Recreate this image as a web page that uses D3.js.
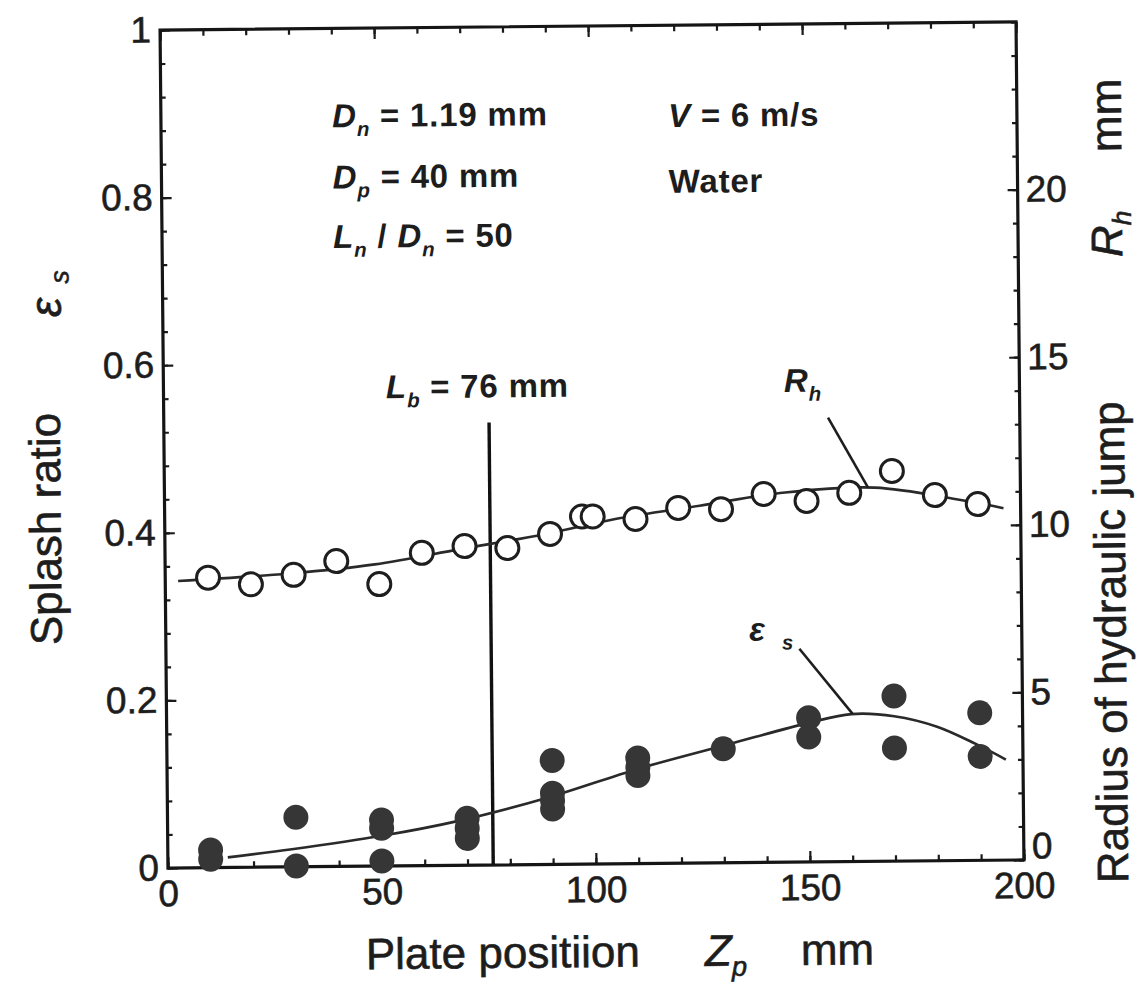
<!doctype html>
<html lang="en">
<head>
<meta charset="utf-8">
<title>Splash ratio and radius of hydraulic jump</title>
<script src="https://cdnjs.cloudflare.com/ajax/libs/d3/7.8.5/d3.min.js"></script>
<style>
  body { margin: 0; background: #fff; }
  svg { display: block; }
  text { font-family: "Liberation Sans", Arial, Helvetica, sans-serif; fill: #1d1d1d; }
  .tick-label { font-size: 37px; stroke: #1d1d1d; stroke-width: 0.6px; }
  .title { font-size: 44px; stroke: #1d1d1d; stroke-width: 0.6px; }
  .note { font-size: 33px; font-weight: bold; letter-spacing: 0.8px; }
</style>
</head>
<body>
<script>

// radius of hydraulic jump Rh (mm), open circles
var zpR = [10, 20, 30, 40, 50, 60, 70, 80, 90, 97.5, 100, 110, 120, 130, 140, 150, 160, 170, 180, 190];
var rh  = [8.65, 8.44, 8.71, 9.11, 8.41, 9.33, 9.52, 9.45, 9.86, 10.37, 10.37, 10.28, 10.6, 10.55, 10.99, 10.77, 11.0, 11.64, 10.91, 10.63];

// splash ratio eps_s, filled circles
var zpE = [10, 10, 30, 30, 50, 50, 50, 70, 70, 70, 90, 90, 90, 90, 110, 110, 110, 130, 150, 150, 170, 170, 190, 190];
var eps = [0.021, 0.01, 0.059, 0.001, 0.055, 0.045, 0.006, 0.056, 0.044, 0.032, 0.124, 0.085, 0.076, 0.066,
           0.126, 0.115, 0.105, 0.136, 0.172, 0.149, 0.197, 0.135, 0.176, 0.124];

// the two hand drawn trend curves
var fitRz = [3, 29, 49, 69, 89, 105, 125, 145, 166, 185, 196];
var fitR  = [8.56, 8.75, 9.0, 9.43, 9.86, 10.28, 10.66, 11.03, 11.15, 10.78, 10.5];
var fitEz = [14, 29, 50, 68, 89, 110, 131, 150, 160, 170, 180, 189, 196];
var fitE  = [0.012, 0.021, 0.036, 0.053, 0.08, 0.113, 0.141, 0.166, 0.176, 0.173, 0.16, 0.139, 0.12];

// breakup length marker
var Lb = 76, LbTop = 0.528;

var xTicks = [0, 50, 100, 150, 200];
var leftTicks = [0, 0.2, 0.4, 0.6, 0.8, 1];
var rightTicks = [0, 5, 10, 15, 20];

var width = 1143, height = 989;
var pl = 164, pr = 1020, pt = 26, pb = 864;   // plot frame

var x = d3.scaleLinear().domain([0, 200]).range([pl, pr]);
var yL = d3.scaleLinear().domain([0, 1]).range([pb, pt]);
var yR = d3.scaleLinear().domain([0, 25]).range([pb, pt]);

var svg = d3.select("body").append("svg")
    .attr("width", width)
    .attr("height", height);

// the scanned figure is a little tilted
var g = svg.append("g")
    .attr("transform", "rotate(-0.54," + (pl + pr) / 2 + "," + (pt + pb) / 2 + ")");

function styleAxis(sel, labels) {
  sel.select(".domain").remove();
  sel.attr("font-size", null).attr("font-family", null).style("color", "#1a1a1a");
  sel.selectAll(".tick line").attr("stroke-width", 2.2);
  if (labels) sel.selectAll(".tick text").attr("class", "tick-label");
  else sel.selectAll(".tick text").remove();
}

// minor ticks
g.append("g").attr("transform", "translate(0," + pb + ")")
  .call(d3.axisBottom(x).tickValues(d3.range(0, 201, 10)).tickSize(-6))
  .call(styleAxis, false);
g.append("g").attr("transform", "translate(0," + pt + ")")
  .call(d3.axisTop(x).tickValues(d3.range(0, 201, 10)).tickSize(-6))
  .call(styleAxis, false);
g.append("g").attr("transform", "translate(" + pl + ",0)")
  .call(d3.axisLeft(yL).tickValues(d3.range(0, 1.001, 0.04)).tickSize(-5))
  .call(styleAxis, false);
g.append("g").attr("transform", "translate(" + pr + ",0)")
  .call(d3.axisRight(yR).tickValues(d3.range(0, 25.1, 1)).tickSize(-5))
  .call(styleAxis, false);

// major ticks + labels
g.append("g").attr("transform", "translate(0," + pb + ")")
  .call(d3.axisBottom(x).tickValues(xTicks).tickSize(-11).tickPadding(12).tickFormat(d3.format("d")))
  .call(styleAxis, true);
g.append("g").attr("transform", "translate(0," + pt + ")")
  .call(d3.axisTop(x).tickValues(xTicks).tickSize(-11))
  .call(styleAxis, false);
g.append("g").attr("transform", "translate(" + pl + ",0)")
  .call(d3.axisLeft(yL).tickValues(leftTicks).tickSize(-10).tickPadding(9)
    .tickFormat(function(d) { return d === 0 ? "0" : d === 1 ? "1" : d3.format(".1f")(d); }))
  .call(styleAxis, true);
g.append("g").attr("transform", "translate(" + pr + ",0)")
  .call(d3.axisRight(yR).tickValues(rightTicks).tickSize(-10).tickPadding(8).tickFormat(d3.format("d")))
  .call(styleAxis, true)
  .call(function(a) {
    // the bottom right "0" sits a little higher, clear of "200"
    a.selectAll(".tick text").filter(function(d) { return d === 0; }).attr("dy", "-0.05em");
  });

// frame
g.append("rect")
  .attr("x", pl).attr("y", pt)
  .attr("width", pr - pl).attr("height", pb - pt)
  .attr("fill", "none").attr("stroke", "#151515").attr("stroke-width", 3.2);

// L_b line
g.append("line")
  .attr("x1", x(Lb)).attr("x2", x(Lb))
  .attr("y1", yL(0)).attr("y2", yL(LbTop))
  .attr("stroke", "#111").attr("stroke-width", 3.4);

// curves
var lineR = d3.line().curve(d3.curveCatmullRom)
  .x(function(d, i) { return x(fitRz[i]); })
  .y(function(d) { return yR(d); });
var lineE = d3.line().curve(d3.curveCatmullRom)
  .x(function(d, i) { return x(fitEz[i]); })
  .y(function(d) { return yL(d); });

g.append("path").attr("d", lineR(fitR))
  .attr("fill", "none").attr("stroke", "#2a2a2a").attr("stroke-width", 2.6);
g.append("path").attr("d", lineE(fitE))
  .attr("fill", "none").attr("stroke", "#2a2a2a").attr("stroke-width", 2.6);

// filled points: splash ratio
g.append("g").selectAll("circle")
  .data(eps)
  .join("circle")
  .attr("cx", function(d, i) { return x(zpE[i]); })
  .attr("cy", function(d) { return yL(d); })
  .attr("r", 12.5)
  .attr("fill", "#363636");

// open points: radius of hydraulic jump
g.append("g").selectAll("circle")
  .data(rh)
  .join("circle")
  .attr("cx", function(d, i) { return x(zpR[i]); })
  .attr("cy", function(d) { return yR(d); })
  .attr("r", 11.5)
  .attr("fill", "#fff")
  .attr("stroke", "#1e1e1e")
  .attr("stroke-width", 3);

// leaders
g.append("line")
  .attr("x1", x(155.2)).attr("y1", yR(13.25))
  .attr("x2", x(164.4)).attr("y2", yR(11.15))
  .attr("stroke", "#1e1e1e").attr("stroke-width", 2.6);
g.append("line")
  .attr("x1", x(148)).attr("y1", yL(0.2546))
  .attr("x2", x(160.3)).attr("y2", yL(0.1763))
  .attr("stroke", "#1e1e1e").attr("stroke-width", 2.6);

// annotations
function note(px, py, parts) {
  var t = g.append("text").attr("class", "note").attr("x", x(px)).attr("y", yL(py));
  parts.forEach(function(p) {
    var s = t.append("tspan").text(p.t);
    if (p.i) s.attr("font-style", "italic");
    if (p.sub) s.attr("font-size", "0.62em").attr("dy", 9);
    if (p.up) s.attr("dy", -9);
    if (p.dx) s.attr("dx", p.dx);
  });
  return t;
}

note(40, 0.882, [{t: "D", i: 1}, {t: "n", i: 1, sub: 1}, {t: " = 1.19 mm", up: 1}]);
note(40, 0.809, [{t: "D", i: 1}, {t: "p", i: 1, sub: 1}, {t: " = 40 mm", up: 1}]);
note(40, 0.738, [{t: "L", i: 1}, {t: "n", i: 1, sub: 1}, {t: " / ", up: 1}, {t: "D", i: 1},
                 {t: "n", i: 1, sub: 1}, {t: " = 50", up: 1}]);
note(118.5, 0.8785, [{t: "V", i: 1}, {t: " = 6 m/s"}]);
note(118.5, 0.800, [{t: "Water"}]);
note(52, 0.558, [{t: "L", i: 1}, {t: "b", i: 1, sub: 1}, {t: " = 76 mm", up: 1}]);
note(145, 0.561, [{t: "R", i: 1}, {t: "h", i: 1, sub: 1}]);
note(136.3, 0.2646, [{t: "\u03b5", i: 1}, {t: "s", i: 1, sub: 1, dx: 16}]);

// axis titles
var xt = g.append("text").attr("class", "title").attr("x", 361).attr("y", 967);
xt.append("tspan").text("Plate positiion");
xt.append("tspan").attr("x", 700).attr("font-style", "italic").text("Z");
xt.append("tspan").attr("font-style", "italic").attr("font-size", "0.62em").attr("dy", 10).text("p");
xt.append("tspan").attr("x", 796).attr("dy", -10).text("mm");

g.append("text").attr("class", "title")
  .attr("transform", "translate(60,640) rotate(-90)")
  .text("Splash ratio");
var le = g.append("text").attr("class", "title")
  .attr("transform", "translate(62,312) rotate(-90)");
le.append("tspan").attr("font-style", "italic").text("\u03b5");
le.append("tspan").attr("font-style", "italic").attr("font-size", "0.6em").attr("dx", 14).attr("dy", 8).text("s");

g.append("text").attr("class", "title")
  .attr("transform", "translate(1124,888) rotate(-90)")
  .text("Radius of hydraulic jump");
var rt = g.append("text").attr("class", "title")
  .attr("transform", "translate(1124,262) rotate(-90)");
rt.append("tspan").attr("font-style", "italic").text("R");
rt.append("tspan").attr("font-style", "italic").attr("font-size", "0.6em").attr("dy", 9).text("h");
g.append("text").attr("class", "title")
  .attr("transform", "translate(1124,157) rotate(-90)")
  .text("mm");

</script>
</body>
</html>
